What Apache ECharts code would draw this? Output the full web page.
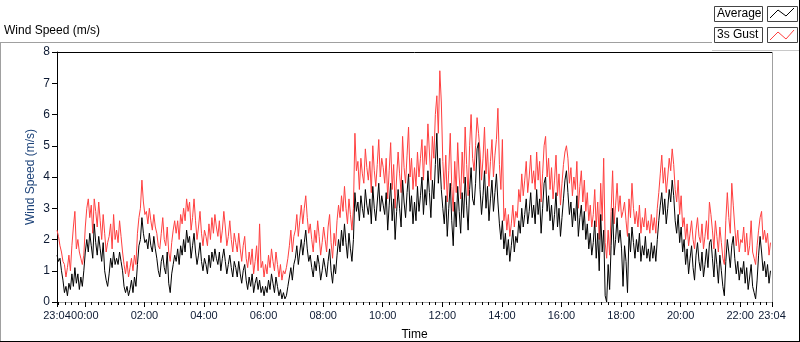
<!DOCTYPE html>
<html>
<head>
<meta charset="utf-8">
<title>Wind Speed (m/s)</title>
<script src="https://cdn.jsdelivr.net/npm/echarts@6/dist/echarts.min.js"></script>
<style>
  html, body { margin: 0; padding: 0; background: #fff; }
  #chart { width: 800px; height: 342px; }
</style>
</head>
<body>
<div id="chart"></div>
<script>
// time axis: minutes relative to 00:00, record runs 23:04 -> 23:04 next day
const T_START = -56;
const T_END = 1384;
const T_STEP = 3; // one sample every 3 min

const majorTicks = [-56, 0, 120, 240, 360, 480, 600, 720, 840, 960, 1080, 1200, 1320, 1384];
const tickLabels = ['23:04', '00:00', '02:00', '04:00', '06:00', '08:00', '10:00', '12:00',
  '14:00', '16:00', '18:00', '20:00', '22:00', '23:04'];
const yTicks = [0, 1, 2, 3, 4, 5, 6, 7, 8];

// Average wind speed (m/s), one row per hour
const avgSpeed = [
  1.5,1.3,1.4,1.0,0.7,0.3,0.5,0.2,0.6,0.4,0.9,0.5,1.1,0.6,0.9,0.4,0.8,0.5,1.0,1.6,
  2.0,1.6,2.2,1.8,1.4,2.5,1.9,1.5,2.1,1.7,1.3,1.9,1.0,0.7,0.5,0.9,1.4,1.1,1.6,1.2,
  1.4,1.2,1.6,1.3,1.0,0.5,0.3,0.5,0.2,0.4,0.7,0.3,0.8,0.5,1.2,1.8,2.0,2.7,2.2,1.9,
  2.0,1.7,2.2,1.8,1.6,2.1,1.7,1.4,1.0,0.8,1.3,1.5,1.1,0.9,1.6,0.6,0.3,0.9,1.2,1.5,
  1.3,1.7,1.2,1.8,1.5,2.0,1.6,2.3,1.9,2.1,1.4,1.8,2.2,1.6,1.2,1.5,1.9,1.3,1.0,1.4,
  1.2,0.9,1.5,1.1,1.6,1.3,1.7,1.4,1.2,1.6,1.0,1.4,1.7,1.3,0.9,1.2,1.5,1.1,0.8,1.3,
  1.1,0.8,1.3,0.9,0.6,1.0,1.2,0.7,0.4,0.8,0.5,0.9,0.3,0.6,0.8,0.4,0.7,0.3,0.5,0.2,
  0.5,0.3,0.7,0.4,0.9,0.6,0.3,0.8,0.5,0.2,0.4,0.1,0.3,0.1,0.2,0.5,0.8,1.1,0.7,1.2,
  1.4,1.8,1.2,1.6,2.0,1.5,1.9,2.3,1.7,1.3,1.5,1.1,0.8,1.3,1.0,1.5,1.2,0.7,1.0,1.4,
  1.1,0.8,1.3,1.7,1.0,0.6,1.2,0.9,1.5,2.0,1.6,2.3,1.8,2.5,1.9,1.4,2.2,1.7,1.3,2.0,
  3.5,2.9,3.2,2.6,3.4,3.0,2.7,3.6,3.1,2.8,3.3,2.5,3.7,3.0,2.6,3.2,3.8,2.9,3.4,3.1,
  2.8,3.5,2.3,3.1,3.8,2.6,3.3,2.0,2.9,3.6,3.0,2.4,3.9,3.2,2.7,3.5,4.1,2.9,3.4,2.5,
  3.2,2.6,3.7,2.9,3.4,4.0,2.8,3.6,3.1,4.2,3.5,2.7,3.9,3.3,4.4,5.4,3.8,4.6,3.6,3.0,
  2.5,3.4,2.1,3.0,3.8,2.6,1.8,3.2,2.4,3.7,2.9,2.2,3.5,2.7,4.0,3.1,2.3,3.6,4.3,3.3,
  3.1,3.8,4.9,5.1,3.6,2.8,3.4,4.2,3.0,3.7,2.6,3.3,3.9,2.9,3.5,4.1,3.2,2.5,2.0,2.6,
  1.7,2.2,1.5,2.0,1.3,1.8,2.3,1.6,2.1,1.9,2.6,2.2,3.0,2.4,2.8,3.3,2.5,2.9,3.5,2.7,
  3.1,2.5,3.6,2.8,3.3,2.2,3.0,3.8,4.0,2.9,3.4,2.6,3.1,2.3,2.8,3.5,2.4,3.0,2.1,2.7,
  3.3,3.9,4.2,3.5,2.8,3.2,2.4,3.0,2.6,3.4,2.1,2.7,3.1,2.3,2.9,2.0,2.5,1.7,2.2,1.5,
  1.9,2.6,1.4,2.2,1.0,2.8,1.6,2.3,0.2,0.0,1.2,0.4,1.8,3.0,1.5,2.0,2.7,1.9,2.3,1.7,
  0.5,1.8,1.3,0.3,2.2,1.6,2.4,1.9,1.4,2.0,1.6,2.2,1.3,1.8,1.5,2.1,1.4,1.7,1.3,1.9,
  1.4,1.8,1.3,2.0,2.6,3.1,3.5,2.8,3.3,2.5,3.0,3.6,3.2,3.9,3.4,2.6,2.2,2.8,1.9,2.4,
  1.6,2.0,1.2,1.7,0.9,1.4,1.8,1.1,0.7,1.5,1.9,1.3,1.0,1.6,0.8,1.2,1.7,1.1,1.9,2.0,
  1.4,0.8,1.7,1.2,0.6,1.5,1.0,0.5,0.2,1.3,2.0,1.6,1.1,1.8,2.1,1.4,0.9,1.3,0.7,1.1,
  0.9,1.3,0.6,1.1,0.4,0.8,1.2,0.5,0.3,0.1,0.7,1.5,2.1,1.6,1.0,1.3,0.8,1.2,0.6,1.0
];

// 3s gust (m/s), one row per hour
const gustSpeed = [
  2.3,2.1,1.8,1.6,1.3,1.2,0.8,1.1,1.5,1.0,1.8,2.4,2.9,1.7,2.0,1.6,1.4,1.2,1.5,2.4,
  3.0,3.3,2.7,3.1,2.2,3.3,2.9,2.4,3.2,2.6,2.0,2.8,2.2,1.6,1.9,2.1,2.5,1.7,2.8,2.0,
  2.3,1.9,2.6,2.1,1.6,1.2,0.9,1.3,0.8,1.1,1.4,1.0,1.5,1.2,2.2,2.7,3.0,3.9,3.2,2.8,
  2.9,2.5,3.0,2.6,2.3,2.8,2.4,2.2,1.8,1.7,2.2,2.7,2.0,1.8,2.4,1.6,1.3,1.9,2.3,2.6,
  2.2,2.6,2.0,2.8,2.5,3.0,2.6,3.3,2.9,3.2,2.3,2.7,3.3,2.6,2.0,2.4,2.9,2.2,1.8,2.3,
  2.1,1.8,2.5,2.0,2.7,2.2,2.8,2.4,2.1,2.6,1.9,2.3,2.9,2.4,1.8,2.1,2.6,2.0,1.6,2.2,
  1.9,1.6,2.2,1.7,1.3,1.8,2.1,1.4,1.1,1.6,1.2,1.7,0.9,1.3,1.8,1.0,2.5,1.1,1.3,0.8,
  1.2,0.9,1.5,1.1,1.7,1.3,1.0,1.6,1.2,0.8,1.2,0.7,1.0,0.9,1.1,1.4,1.8,2.3,1.6,2.1,
  2.3,2.8,2.1,2.6,3.1,2.5,3.0,3.4,2.7,2.2,2.5,2.0,1.6,2.3,1.9,2.6,2.1,1.5,1.9,2.4,
  2.0,1.6,2.4,2.8,1.9,1.4,2.2,1.8,2.6,3.1,2.7,3.4,2.9,3.7,3.0,2.5,3.3,2.8,2.3,3.0,
  5.4,4.2,4.5,3.6,4.6,4.1,3.8,4.9,4.3,3.9,4.5,3.5,5.0,4.2,3.7,4.4,5.2,4.0,4.6,4.3,
  3.8,4.6,3.3,4.2,5.1,3.6,4.4,3.0,4.0,4.8,4.1,3.5,5.3,4.3,3.8,4.7,5.6,4.0,4.6,3.6,
  4.3,3.7,4.8,4.0,4.6,5.2,3.9,5.0,4.4,5.7,4.8,3.9,5.3,4.6,6.0,6.6,5.4,7.4,6.4,4.5,
  3.6,4.7,3.2,4.2,5.4,3.7,2.9,4.5,3.5,5.1,4.0,3.3,4.8,3.8,5.6,4.4,3.4,5.0,6.0,4.6,
  4.2,5.0,5.9,5.4,4.8,3.9,4.6,5.6,4.1,4.9,3.7,4.5,5.2,4.0,4.7,5.2,6.2,4.4,3.6,5.2,
  2.6,3.0,2.3,2.8,2.1,2.5,3.1,2.4,2.9,2.7,3.6,3.2,4.1,3.4,3.9,4.5,3.5,4.0,4.7,3.8,
  4.2,3.6,4.8,3.9,4.5,3.2,4.1,5.0,5.3,4.0,4.6,3.6,4.3,3.3,3.9,4.7,3.4,4.1,3.1,3.8,
  4.4,4.8,5.0,4.6,3.8,4.3,3.4,4.0,3.6,4.5,3.0,3.7,4.2,3.2,3.9,2.9,3.5,2.6,3.1,2.4,
  2.8,3.6,2.4,3.2,2.0,3.8,2.6,4.6,1.9,1.4,2.3,1.5,2.9,4.2,2.5,3.1,3.8,2.9,3.4,2.7,
  2.9,3.2,2.6,2.1,3.3,2.7,3.8,3.0,2.5,2.9,2.4,3.1,2.2,2.7,2.4,3.0,2.3,2.6,2.2,2.8,
  2.3,2.7,2.2,3.0,3.5,4.1,4.7,3.8,4.3,3.5,4.0,4.6,4.2,4.9,4.4,3.6,3.2,3.9,2.8,3.4,
  2.4,2.7,2.0,2.5,1.8,2.2,2.6,2.0,1.7,2.3,2.7,2.1,1.9,2.5,1.7,2.1,2.6,2.0,3.2,2.8,
  2.3,1.7,2.6,2.1,1.6,2.4,1.9,1.4,1.2,2.6,3.5,2.7,2.2,3.8,3.1,2.4,1.8,2.3,1.6,2.0,
  1.9,2.4,1.6,2.2,1.5,1.8,2.6,1.6,1.4,1.2,1.8,2.3,2.7,2.9,2.0,2.3,1.9,2.2,1.5,1.9
];

// minor ticks on the time axis (9 per 2 h)
const minorTicks = [];
for (let k = -4; k <= 103; k++) minorTicks.push(k * 40 / 3);

const toPairs = (arr) => arr.map((v, i) => [T_START + i * T_STEP, v]);

const FONT = "'Liberation Sans', Arial, sans-serif";
const LABEL_COLOR = '#0d1a33';

const chart = echarts.init(document.getElementById('chart'), null, { renderer: 'canvas' });

chart.setOption({
  animation: false,
  backgroundColor: '#fff',
  textStyle: { fontFamily: FONT },
  title: {
    text: 'Wind Speed (m/s)',
    left: 4,
    top: 25,
    padding: 0,
    textStyle: { fontSize: 12, fontWeight: 'normal', color: '#000', fontFamily: FONT }
  },
  grid: { left: 57, top: 52, right: 28, bottom: 40, containLabel: false, outerBoundsMode: 'none' },
  xAxis: [
    {
      type: 'value',
      min: T_START,
      max: T_END,
      name: 'Time',
      nameLocation: 'middle',
      nameGap: 27,
      nameMoveOverlap: false,
      nameTextStyle: { fontSize: 12, color: '#000' },
      axisLine: { show: true, onZero: false, lineStyle: { color: '#a0a0a0', width: 1 } },
      axisTick: { show: true, customValues: majorTicks, length: 5, lineStyle: { color: '#000' } },
      axisLabel: {
        show: true,
        customValues: majorTicks,
        fontSize: 11,
        color: LABEL_COLOR,
        margin: 8,
        formatter: (v) => tickLabels[majorTicks.indexOf(v)]
      },
      splitLine: { show: false }
    },
    {
      // minor ticks only
      type: 'value',
      min: T_START,
      max: T_END,
      position: 'bottom',
      axisLine: { show: false, onZero: false },
      axisTick: { show: true, customValues: minorTicks, length: 3, lineStyle: { color: '#000' } },
      axisLabel: { show: false },
      splitLine: { show: false }
    }
  ],
  yAxis: {
    type: 'value',
    min: yTicks[0],
    max: yTicks[yTicks.length - 1],
    interval: 1,
    name: 'Wind Speed (m/s)',
    nameLocation: 'middle',
    nameGap: 20,
    nameMoveOverlap: false,
    nameTextStyle: { fontSize: 12, color: '#1d4379' },
    axisLine: { show: true, onZero: false, lineStyle: { color: '#000', width: 1 } },
    axisTick: { show: true, length: 5, lineStyle: { color: '#000' } },
    axisLabel: { fontSize: 12, color: LABEL_COLOR, margin: 7 },
    splitLine: { show: false }
  },
  graphic: [
    // outer frame
    { type: 'line', shape: { x1: 0, y1: 42.5, x2: 712, y2: 42.5 }, style: { stroke: '#a0a0a0', lineWidth: 1 } },
    { type: 'line', shape: { x1: 0.5, y1: 42, x2: 0.5, y2: 341 }, style: { stroke: '#a0a0a0', lineWidth: 1 } },
    { type: 'line', shape: { x1: 0, y1: 341.5, x2: 800, y2: 341.5 }, style: { stroke: '#000', lineWidth: 1 } },
    { type: 'line', shape: { x1: 799.5, y1: 0, x2: 799.5, y2: 342 }, style: { stroke: '#000', lineWidth: 1 } },
    { type: 'line', shape: { x1: 712, y1: 50.5, x2: 799, y2: 50.5 }, style: { stroke: '#c8c8c8', lineWidth: 1 } },
    // plot frame, top and right
    { type: 'line', shape: { x1: 57, y1: 52.5, x2: 772, y2: 52.5 }, style: { stroke: '#000', lineWidth: 1 }, z: 10 },
    { type: 'line', shape: { x1: 772.5, y1: 52, x2: 772.5, y2: 302 }, style: { stroke: '#a0a0a0', lineWidth: 1 }, z: 10 },
    // legend
    { type: 'rect', shape: { x: 714.5, y: 6.5, width: 48, height: 15 }, style: { fill: '#fff', stroke: '#444', lineWidth: 1 } },
    { type: 'text', x: 717, y: 14, style: { text: 'Average', fontSize: 12, fontFamily: FONT, fill: '#000', verticalAlign: 'middle' } },
    { type: 'rect', shape: { x: 767.5, y: 6.5, width: 30, height: 15 }, style: { fill: '#fff', stroke: '#444', lineWidth: 1 } },
    { type: 'polyline', shape: { points: [[770, 18], [778, 10], [786, 16], [794, 8]] }, style: { stroke: '#000', lineWidth: 1, fill: null } },
    { type: 'rect', shape: { x: 714.5, y: 27.5, width: 48, height: 15 }, style: { fill: '#fff', stroke: '#444', lineWidth: 1 } },
    { type: 'text', x: 717, y: 35, style: { text: '3s Gust', fontSize: 12, fontFamily: FONT, fill: '#000', verticalAlign: 'middle' } },
    { type: 'rect', shape: { x: 767.5, y: 27.5, width: 30, height: 15 }, style: { fill: '#fff', stroke: '#444', lineWidth: 1 } },
    { type: 'polyline', shape: { points: [[770, 40], [778, 32], [786, 39], [794, 30]] }, style: { stroke: '#ff4040', lineWidth: 1, fill: null } }
  ],
  series: [
    {
      name: '3s Gust',
      type: 'line',
      xAxisIndex: 0,
      data: toPairs(gustSpeed),
      showSymbol: false,
      symbol: 'none',
      lineStyle: { color: '#ff4040', width: 1 },
      itemStyle: { color: '#ff4040' }
    },
    {
      name: 'Average',
      type: 'line',
      xAxisIndex: 0,
      data: toPairs(avgSpeed),
      showSymbol: false,
      symbol: 'none',
      lineStyle: { color: '#000', width: 1 },
      itemStyle: { color: '#000' }
    }
  ]
});
</script>
</body>
</html>
